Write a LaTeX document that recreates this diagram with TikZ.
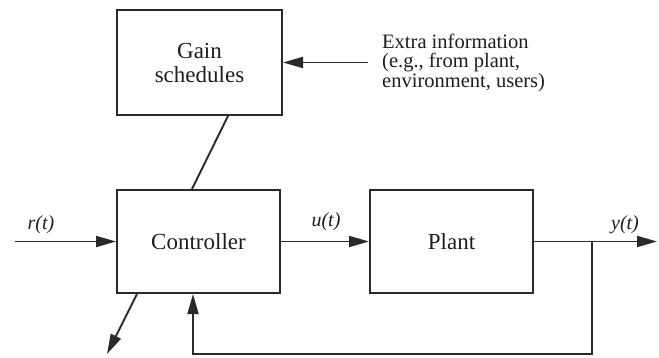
\documentclass[tikz,border=0pt]{standalone}
\usepackage{fontspec}
\setmainfont{Liberation Serif}
\usetikzlibrary{arrows.meta}
\definecolor{linec}{HTML}{2A2A2A}
\definecolor{textc}{HTML}{1E1E1E}
\begin{document}
\begin{tikzpicture}[x=1pt,y=-1pt,
  blk/.style={draw=linec, line width=2pt, fill=white, inner sep=0pt, align=center,
    text=textc, font=\fontsize{23}{24}\selectfont},
  conn/.style={draw=linec, line width=1.9pt},
  arr/.style={conn, -{Triangle[length=20pt,width=11pt]}},
  sig/.style={text=textc, font=\fontsize{20}{22}\selectfont\itshape, inner sep=0pt},
  note/.style={text=textc, font=\fontsize{20.5}{18.5}\selectfont, align=left, inner ysep=0pt, inner xsep=0pt}
]
\useasboundingbox (0,0) rectangle (659,358);
\fill[white] (0,0) rectangle (659,358);

\node[blk, minimum width=165pt, minimum height=105pt] (gain) at (199.5,62.5) {Gain\\schedules};
\node[blk, minimum width=163pt, minimum height=103pt] (ctrl) at (198.5,241.5) {Controller};
\node[blk, minimum width=163pt, minimum height=103pt] (plant) at (451.5,241.5) {Plant};

\node[note, anchor=west] (extra) at (382,63) {Extra information\\(e.g., from plant,\\environment, users)};
\coordinate (exs) at (368,62.5);
\draw[arr] (exs) -- (gain.east);

% gain to controller
\draw[conn] ([xshift=28.5pt]gain.south) -- ([xshift=-6.5pt]ctrl.north);

% input
\coordinate (rin) at (15,241.5);
\draw[arr] (rin) -- (ctrl.west);
\node[sig] (rlab) at (41,225) {r(t)};

% controller to plant
\draw[arr] (ctrl.east) -- (plant.west);
\node[sig] (ulab) at (326,222) {u(t)};

% output
\coordinate (yout) at (657,241.5);
\coordinate (junc) at (592,241.5);
\draw[arr] (plant.east) -- (yout);
\node[sig] (ylab) at (625,225) {y(t)};

% feedback
\coordinate (fb1) at (592,354);
\coordinate (fb2) at (193,354);
\draw[arr] (junc) -- (fb1) -- (fb2) -- (fb2 |- ctrl.south);

% output of controller (down-left)
\coordinate (cout) at (107,354);
\draw[arr] ([xshift=-61.5pt]ctrl.south) -- (cout);
\end{tikzpicture}
\end{document}
